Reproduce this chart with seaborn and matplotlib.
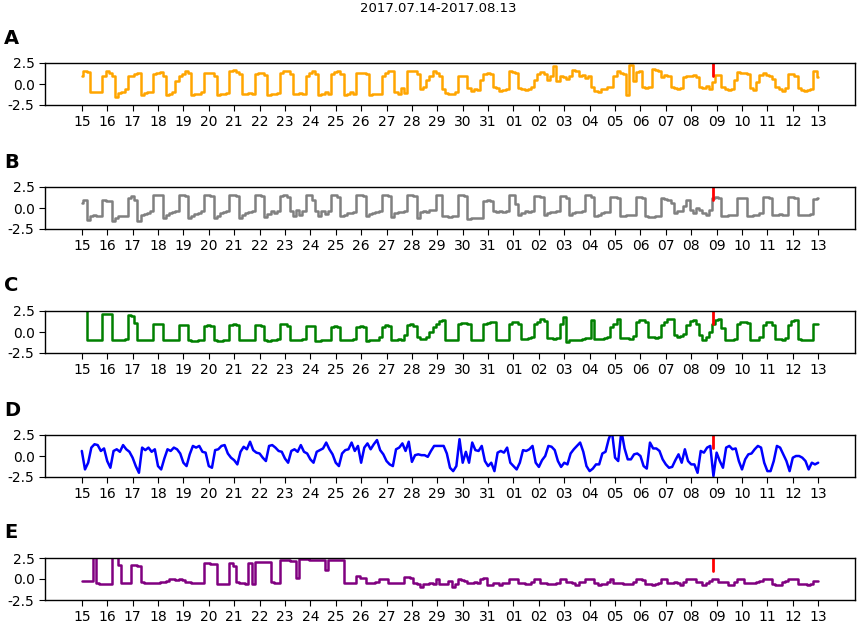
import numpy as np
import pandas as pd
import seaborn as sns
import matplotlib.pyplot as plt
import matplotlib.dates as mdates

# 3-hourly readings, 8 per day (00,03,...,21h), 2017-07-15 .. 2017-08-12, plus 08-13 00h
ser_a = [
    1.0, 1.5, 1.4, -1.0, -1.0, -1.0, -0.9, 1.0,   # 15
    1.5, 1.3, 1.0, -1.5, -1.1, -1.0, -0.6, 0.9,   # 16
    1.0, 1.2, 1.3, -1.3, -1.1, -1.0, -1.0, 1.2,   # 17
    1.3, 1.4, 1.0, -1.3, -1.2, -1.0, 0.4, 1.0,    # 18
    1.2, 1.5, 1.3, -1.3, -1.2, -1.2, -1.0, 1.3,   # 19
    1.3, 1.3, 1.0, -1.3, -1.2, -1.2, -1.1, 1.6,   # 20
    1.7, 1.4, 1.2, -1.2, -1.2, -1.1, -1.2, 1.2,   # 21
    1.3, 1.3, 1.1, -1.3, -1.2, -1.2, -1.1, 1.3,   # 22
    1.5, 1.6, 1.2, -1.2, -1.2, -1.1, -1.2, 1.0,   # 23
    1.3, 1.5, 1.2, -1.3, -1.2, -1.0, -1.2, 1.2,   # 24
    1.4, 1.5, 1.2, -1.3, -1.2, -1.0, -1.2, 1.3,   # 25
    1.3, 1.3, 1.2, -1.3, -1.2, -1.2, -1.2, 1.0,   # 26
    1.3, 1.5, 1.6, -1.0, -1.2, -0.5, -1.1, 1.5,   # 27
    1.6, 1.5, 1.2, -0.6, -0.4, 0.5, 1.0, 1.5,     # 28
    1.3, 1.0, -0.6, -1.1, -1.2, -1.2, -1.0, 1.0,  # 29
    1.0, 1.0, -0.5, -0.8, -0.6, -0.7, 0.5, 1.2,   # 30
    1.3, 1.2, -0.3, -0.5, -0.8, -0.7, -0.6, 1.5,  # 31
    1.4, 1.3, -0.5, -0.6, -0.7, -0.6, -0.4, 0.5,  # 01
    1.2, 1.4, 1.2, 0.5, 0.9, 2.1, 0.3, 1.0,       # 02
    0.8, 0.6, 1.0, 1.7, 1.5, 1.0, 1.1, 0.7,       # 03
    1.0, -0.4, -0.8, -1.0, -0.6, -0.6, -0.3, -0.4,  # 04
    0.9, 1.6, 1.3, 1.2, -1.3, 2.3, 0.4, 1.4,      # 05
    1.5, -0.3, -0.5, -0.3, 1.8, 1.7, 1.6, 0.8,    # 06
    1.1, 1.0, -0.4, -0.5, -0.6, -0.5, 0.8, 1.0,   # 07
    1.0, 1.1, 0.8, -0.4, -0.5, -0.2, -0.6, 0.2,   # 08
    1.1, 1.1, -0.4, -0.6, -0.7, -0.6, 0.5, 1.4,   # 09
    1.3, 1.3, 1.2, -0.5, -0.7, 0.2, 1.1, 1.3,     # 10
    1.1, 1.0, 0.6, -0.4, -0.6, -0.8, -0.5, 1.2,   # 11
    1.2, 1.0, -0.5, -0.7, -0.8, -0.7, -0.6, 1.5,  # 12
    0.8,
]

ser_b = [
    0.6, 0.9, -1.4, -0.9, -0.8, -1.0, -1.0, 0.9,
    0.8, 0.8, -1.6, -1.2, -1.0, -1.0, -1.0, 1.2,
    1.4, 1.0, -1.5, -0.8, -0.7, -0.6, -0.4, 1.5,
    1.6, 1.5, -1.2, -0.8, -0.6, -0.5, -0.3, 1.5,
    1.5, 1.4, -1.2, -0.9, -0.7, -0.6, -0.4, 1.5,
    1.5, 1.4, -1.2, -0.9, -0.6, -0.5, -0.3, 1.5,
    1.5, 1.4, -1.2, -0.8, -0.6, -0.5, -0.4, 1.5,
    1.5, 1.4, -1.1, -0.7, -0.4, -0.6, -0.3, 1.4,
    1.5, 1.3, -0.4, -0.9, -0.2, -0.8, -0.3, 1.5,
    1.5, 1.0, -0.3, -0.9, -0.4, -0.7, -0.3, 1.5,
    1.5, 1.3, -1.0, -0.8, -0.6, -0.6, -0.5, 1.5,
    1.5, 1.4, -1.0, -0.7, -0.6, -0.5, -0.4, 1.5,
    1.6, 1.4, -1.1, -0.6, -0.5, -0.5, -0.3, 1.6,
    1.5, 1.4, -1.2, -0.5, -0.3, -0.5, -0.2, -0.2,
    1.6, 1.5, -1.0, -1.0, -1.1, -1.0, -1.0, 1.5,
    1.5, 1.4, -1.3, -1.2, -1.2, -1.2, -1.2, 0.8,
    1.0, 0.8, -0.3, -0.5, -0.4, -0.5, -0.3, 1.5,
    1.6, 0.5, -0.8, -0.6, -0.4, -0.5, -0.3, 1.4,
    1.4, 1.3, -0.8, -0.6, -0.5, -0.5, -0.4, 1.4,
    1.4, 1.2, -0.8, -0.6, -0.5, -0.5, -0.4, 1.5,
    1.5, 1.3, -1.0, -0.8, -0.6, -0.5, -0.5, 1.3,
    1.3, 1.2, -0.9, -0.9, -0.8, -0.8, -0.8, 1.3,
    1.3, 1.2, -1.0, -1.1, -1.1, -1.0, -1.0, 1.2,
    1.1, 1.0, 0.6, -0.6, -0.4, -0.3, 0.2, 0.9,
    -0.2, -0.6, 0.0, -0.2, -0.6, -0.8, -0.2, 1.2,
    1.3, 1.2, -0.9, -0.9, -0.8, -0.8, -0.8, 1.2,
    1.2, 1.2, -0.9, -0.9, -0.8, -0.8, -0.6, 1.3,
    1.3, 1.2, -0.8, -0.8, -0.7, -0.8, -0.8, 1.3,
    1.3, 1.2, -0.8, -0.8, -0.8, -0.8, -0.7, 1.1,
    1.2,
]

ser_c = [
    4.0, 3.5, -1.0, -1.0, -0.9, -1.0, -0.9, 2.1,
    2.2, 2.1, -1.0, -1.0, -0.9, -0.9, -0.8, 2.0,
    1.9, 1.1, -1.0, -1.0, -1.0, -0.9, -0.9, 1.0,
    1.0, 0.9, -1.0, -1.0, -1.0, -0.9, -0.9, 0.8,
    0.8, 0.8, -1.0, -1.1, -1.1, -1.0, -1.0, 0.7,
    0.8, 0.7, -1.0, -1.1, -1.1, -1.0, -0.9, 0.8,
    1.0, 0.8, -1.0, -1.0, -1.0, -1.0, -0.9, 0.8,
    0.8, 0.7, -1.0, -1.1, -1.0, -1.0, -0.8, 0.9,
    0.9, 0.7, -1.0, -1.0, -1.0, -1.0, -0.8, 0.7,
    0.7, 0.7, -1.1, -1.1, -1.0, -1.0, -1.0, 0.6,
    0.7, 0.6, -1.0, -1.0, -1.0, -0.9, -0.8, 0.6,
    0.7, 0.6, -1.1, -1.0, -1.0, -0.9, -0.6, 0.6,
    0.8, 0.7, -0.9, -1.0, -0.8, -1.0, -0.4, 0.8,
    0.9, 0.7, -0.6, -0.8, -0.8, -0.6, 0.0, 0.6,
    1.0, 1.3, 1.4, -0.9, -0.9, -1.0, -0.9, 1.0,
    1.1, 1.1, 1.0, -1.0, -1.0, -1.0, -0.9, 1.0,
    1.1, 1.2, 1.2, -0.9, -1.0, -0.9, -0.9, 0.9,
    1.2, 1.2, 1.0, -0.8, -0.8, -0.7, -0.6, 0.9,
    1.2, 1.5, 1.3, -0.7, -0.7, -0.8, -0.7, 1.0,
    1.8, -1.2, -0.9, -0.9, -0.9, -0.9, -0.8, -0.7,
    -0.7, 1.4, -0.8, -0.8, -0.8, -0.7, -0.6, 0.6,
    1.0, 1.6, -0.7, -0.7, -0.7, -0.8, -0.5, 1.2,
    1.4, 1.4, 1.2, -0.6, -0.6, -0.7, -0.6, 0.8,
    1.2, 1.6, 1.5, -0.3, -0.6, -0.5, -0.2, 0.8,
    1.3, 1.4, 0.9, -0.4, -1.0, -0.6, 0.0, 1.0,
    1.4, 1.5, 0.5, -0.9, -0.9, -0.9, -0.8, 1.0,
    1.2, 1.2, 1.1, -0.9, -0.9, -0.9, -0.6, 0.8,
    1.2, 1.2, 0.8, -0.8, -0.8, -0.9, -0.7, 0.8,
    1.3, 1.4, -0.8, -1.0, -1.0, -1.0, -0.9, 0.9,
    0.9,
]

ser_d = [
    0.6, -1.6, -0.8, 1.0, 1.4, 1.3, 0.6, 0.9,
    -0.6, -1.4, 0.6, 0.8, 0.5, 1.3, 0.8, 0.5,
    -0.2, -1.2, -2.0, 1.0, 0.7, 1.0, 0.5, 0.8,
    -1.2, -1.6, -0.3, 0.8, 0.6, 1.0, 0.8, 0.3,
    -0.8, -1.2, 0.2, 1.2, 1.0, 1.2, 0.5, 0.4,
    -1.2, -1.4, 0.7, 0.8, 1.2, 1.3, 0.3, -0.2,
    -0.5, -1.0, 0.5, 1.1, 0.8, 1.7, 0.7, 0.4,
    0.3, -0.2, -0.6, 1.2, 1.3, 1.0, 0.6, 0.5,
    -0.3, -0.8, 0.6, 0.8, 0.5, 1.3, 0.5, 0.3,
    -0.4, -0.8, 0.5, 0.7, 0.9, 1.6, 0.8, 0.2,
    -0.8, -1.2, 0.3, 0.7, 0.8, 1.6, 0.6, 1.2,
    -0.8, 1.0, 1.5, 0.8, 1.4, 1.9, 0.7, 0.2,
    -0.6, -1.0, -1.2, 0.8, 1.0, 1.5, 0.6, 1.7,
    -0.7, 0.1, 0.2, 0.1, 0.1, -0.1, 0.6, 1.2,
    1.2, 1.2, 1.2, 0.3, -1.4, -1.8, -1.2, 2.0,
    -0.8, 0.5, -0.8, 1.6, 0.7, 0.6, 1.2, -0.6,
    -1.2, -0.8, -1.8, 0.4, 0.6, 0.4, 1.0, -0.8,
    -1.2, -1.6, -0.8, 0.7, 0.6, 0.8, 1.2, -0.8,
    -1.3, -0.5, 0.0, 1.2, 1.1, 0.7, -0.6, -1.3,
    -0.8, -1.0, 0.3, 0.8, 1.2, 1.6, 0.5, -1.2,
    -1.8, -1.5, -1.0, -1.0, 0.3, 0.5, 2.0, 3.0,
    -0.2, -0.6, 3.0, 0.9, -0.4, -0.4, 0.2, 0.3,
    0.0, -1.2, -1.5, 1.6, 0.9, 0.9, 0.6, -0.4,
    -1.0, -1.4, -1.3, -0.5, 0.2, -0.8, 0.8, -0.6,
    -1.0, -1.0, -2.0, 0.6, 0.4, 1.0, 1.2, -2.4,
    0.4, -0.6, -1.4, 1.0, 1.2, 0.8, 0.9, -0.6,
    -1.6, -0.4, 0.2, 0.3, 0.8, 1.2, 1.0, -0.8,
    -1.8, -1.8, -0.6, 1.2, 1.0, 0.2, -0.6, -1.8,
    -0.2, 0.0, 0.0, -0.2, -0.6, -1.6, -0.8, -1.0,
    -0.8,
]

ser_e = [
    -0.2, -0.2, -0.2, -0.2, 3.5, -0.5, -0.6, -0.6,   # 15
    -0.6, -0.6, 3.0, 3.0, 1.7, -0.5, -0.5, -0.5,     # 16
    1.7, 1.7, 1.6, -0.4, -0.5, -0.5, -0.5, -0.5,     # 17
    -0.5, -0.4, -0.3, -0.2, 0.0, 0.0, -0.1, 0.0,     # 18
    -0.1, -0.3, -0.4, -0.5, -0.5, -0.5, -0.5, 1.9,   # 19
    1.9, 1.8, 1.8, -0.6, -0.6, -0.6, -0.6, 1.9,      # 20
    1.6, -0.4, -0.5, -0.5, -0.6, 1.9, -0.6, 2.0,     # 21
    2.0, 2.0, 2.0, 2.0, -0.4, -0.5, -0.5, 2.3,       # 22
    2.3, 2.3, 2.2, 2.2, 0.1, 2.4, 2.4, 2.4,          # 23
    2.3, 2.3, 2.3, 2.3, 2.3, 1.1, 2.3, 2.3,          # 24
    2.3, 2.3, 2.3, -0.5, -0.5, -0.5, -0.5, 0.3,      # 25
    0.1, 0.1, -0.5, -0.5, -0.5, -0.3, 0.0, 0.0,      # 26
    0.0, -0.5, -0.5, -0.5, -0.5, -0.5, 0.2, 0.2,     # 27
    0.1, -0.5, -0.6, -0.9, -0.6, -0.6, -0.5, -0.6,   # 28
    0.0, -0.6, -0.6, -0.6, -0.2, -0.9, -0.6, 0.0,    # 29
    -0.1, -0.2, -0.5, -0.5, -0.4, -0.5, 0.0, 0.1,    # 30
    -0.7, -0.7, -0.5, -0.5, -0.7, -0.5, -0.5, 0.0,   # 31
    0.0, 0.0, -0.5, -0.5, -0.6, -0.6, -0.4, 0.0,     # 01
    0.0, -0.5, -0.5, -0.6, -0.6, -0.6, -0.5, 0.0,    # 02
    0.0, -0.3, -0.4, -0.5, -0.7, -0.3, -0.3, 0.0,    # 03
    0.0, 0.0, -0.5, -0.7, -0.6, -0.6, -0.4, 0.0,     # 04
    -0.5, -0.5, -0.5, -0.6, -0.6, -0.6, -0.3, 0.0,   # 05
    0.0, -0.1, -0.6, -0.6, -0.7, -0.6, -0.5, 0.0,    # 06
    0.0, -0.5, -0.5, -0.4, -0.5, -0.7, -0.3, 0.0,    # 07
    0.0, 0.0, -0.3, -0.3, -0.7, -0.5, -0.2, 0.0,     # 08
    0.0, -0.3, -0.3, -0.3, -0.7, -0.7, -0.4, 0.0,    # 09
    0.0, -0.5, -0.5, -0.5, -0.5, -0.4, -0.2, 0.0,    # 10
    0.0, 0.0, -0.6, -0.7, -0.7, -0.3, -0.2, 0.0,     # 11
    0.0, 0.0, -0.6, -0.6, -0.6, -0.7, -0.6, -0.2,    # 12
    -0.2,
]

times = pd.date_range('2017-07-15 00:00', '2017-08-13 00:00', freq='3h')
day_ticks = pd.date_range('2017-07-15', '2017-08-13', freq='D')
event_time = pd.Timestamp('2017-08-08 21:00')

panels = ['A', 'B', 'C', 'D', 'E']
series = [ser_a, ser_b, ser_c, ser_d, ser_e]
colors = ['orange', 'gray', 'green', 'blue', 'purple']
styles = ['steps-mid', 'steps-mid', 'steps-mid', 'default', 'steps-mid']

sns.set_style('ticks')
plt.rcParams['font.family'] = ['DejaVu Sans']
plt.rcParams['text.color'] = 'black'
plt.rcParams['xtick.color'] = 'black'
plt.rcParams['ytick.color'] = 'black'

fig = plt.figure(figsize=(8.58, 6.24), dpi=100)
W, H = 858, 624
ax_tops = [63, 187, 311, 435, 558]
ax_h = 42

for lab, vals, col, ds, top in zip(panels, series, colors, styles, ax_tops):
    ax = fig.add_axes([45 / W, 1 - (top + ax_h) / H, 810 / W, ax_h / H])
    df = pd.DataFrame({'time': times, 'value': vals})
    sns.lineplot(data=df, x='time', y='value', color=col, lw=1.8,
                 drawstyle=ds, ax=ax)
    ax.axvline(event_time, ymin=0.7, ymax=1.0, color='red', lw=2)
    ax.set_ylim(-2.5, 2.5)
    ax.set_yticks([-2.5, 0, 2.5])
    ax.set_yticklabels(['-2.5', '0.0', '2.5'])
    ax.set_xticks(day_ticks)
    ax.xaxis.set_major_formatter(mdates.DateFormatter('%d'))
    ax.set_xlabel('')
    ax.set_ylabel('')
    ax.tick_params(labelsize=10, length=4, color='black')
    for s in ax.spines.values():
        s.set_color('black')
        s.set_linewidth(1)
    fig.text(4 / W, 1 - (top - 25) / H, lab, fontsize=14, fontweight='bold',
             va='center', ha='left')

fig.text(438 / W, 1 - 9 / H, '2017.07.14-2017.08.13', fontsize=9.5,
         ha='center', va='center')

fig.savefig('out.png', dpi=100)
